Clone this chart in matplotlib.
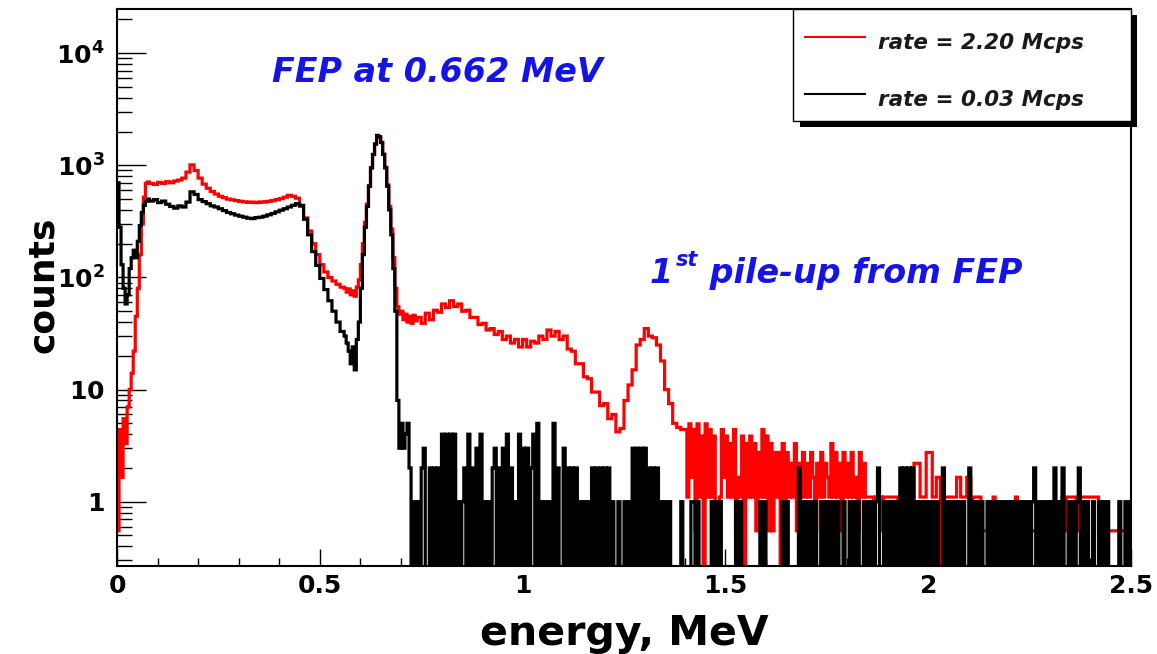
import numpy as np
import matplotlib
matplotlib.use("Agg")
import matplotlib.pyplot as plt
from matplotlib.patches import Rectangle
from matplotlib.lines import Line2D
from matplotlib.ticker import MultipleLocator, LogLocator, NullFormatter

plt.rcParams['font.family'] = ['DejaVu Sans']
plt.rcParams['mathtext.fontset'] = 'dejavusans'
plt.rcParams['path.simplify'] = False

# ---------------- data ----------------
series_labels = ["rate = 2.20 Mcps", "rate = 0.03 Mcps"]
series_colors = ["#ff0000", "#000000"]

# red spectrum (2.20 Mcps)
red_lo = [0.55, 4.4, 1.65, 5.5, 3.3, 7, 10, 14, 22, 45, 80, 160, 300, 520, 690, 710]      # 0.000-0.080, 5 keV bins
red_mid = [690, 675, 705, 690, 715, 700, 725, 740, 770, 870,
           1010,
           900, 770, 680, 625, 585, 555, 530, 515, 500,
           492, 485, 478, 472, 468, 470, 465, 472, 470, 478, 485, 495, 505, 520,
           540, 530, 510, 430, 340, 260, 200, 160, 130, 112, 100, 93, 87, 82]             # 0.08-0.56, 10 keV bins
red_peak = [80, 74, 79, 70, 76, 68, 82, 95, 130, 200, 310, 450, 660, 950, 1250, 1550,
            1800, 1780, 1600, 1260, 960, 670, 430, 270, 150, 80, 55, 47, 50, 42, 47, 40,
            45, 39, 46, 41]                                                                 # 0.56-0.74, 5 keV bins
red_cont = [44, 39, 48, 42, 51, 49, 58, 54, 62, 55,
            58, 50, 51, 44, 44, 38, 39, 34, 35, 31,
            33, 28, 30, 26, 28, 24, 28, 24, 27, 26,
            30, 28, 34, 30, 33, 28, 30, 23, 22, 17,
            17, 13, 12.5, 9.5, 9.5, 7.2, 7.5, 5.5, 6, 4.2,
            4.5, 8, 11, 15, 25, 28, 35, 30, 29, 25,
            18, 10, 7.5, 5.0, 4.6, 4.4]                                                    # 0.74-1.40, 10 keV bins
red_unit = 0.55   # height of one red count (scaled histogram)
red_tail_groups = [                                                                          # 1.40-2.50, 5 keV bins, counts
    "8293819270", "9282710283", "7262813270", "6272615282", "7161525061",
    "5242614252", "4253142524", "3262524152", "4252315242", "2221222122",
    "2222212222", "2224442225", "5522330322", "2222332223", "3122221111",
    "1121111111", "1112111111", "1111111111", "1111112122", "2221222222",
    "2222111111", "1111111101",
]

# black spectrum (0.03 Mcps)
black_lo = [700, 280, 130, 80, 58, 70, 120, 150, 175, 150, 210, 290, 380, 440, 480, 500]   # 0.000-0.080
black_mid = [480, 495, 465, 480, 450, 430, 415, 435, 425, 470,
             580,
             550, 495, 475, 455, 435, 425, 410, 395, 380,
             370, 360, 352, 345, 338, 335, 342, 345, 352, 362, 372, 385, 398, 410,
             425, 440, 455, 440, 330, 240, 170, 128, 98, 78, 62, 50, 40, 33]              # 0.08-0.56
black_peak = [30, 26, 22, 17, 24, 15, 28, 40, 80, 160, 280, 430, 650, 950, 1250, 1550,
              1850, 1800, 1600, 1250, 950, 650, 400, 240, 120, 50, 8, 3, 5, 3, 4, 5]      # 0.56-0.72
black_tail_groups = [                                                                        # 0.72-2.50, 5 keV bins, counts
    "2010102300", "2020204040", "4040101204", "0203040101", "0230203040",
    "2010403030", "2405010101", "0502003020", "2020101010", "2020202020",
    "1001001010", "3030303020", "2020101010", "0000100001", "1010000001",
    "0101000000", "0101000000", "0001010000", "0000101000", "0020101010",
    "1001010101", "0100100101", "0100101010", "1200101010", "1020202020",
    "1010101010", "1002010101", "0101002010", "1010010101", "0101010101",
    "0101010120", "1010101020", "1020010101", "2010100100", "1010100000",
    "100101",
]

xtick_values = [0, 0.5, 1, 1.5, 2, 2.5]
xtick_labels = ["0", "0.5", "1", "1.5", "2", "2.5"]
ytick_values = [1, 10, 100, 1000, 10000]
ytick_labels = [r"$\mathbf{1}$", r"$\mathbf{10}$", r"$\mathbf{10^{2}}$",
                r"$\mathbf{10^{3}}$", r"$\mathbf{10^{4}}$"]

FINE, COARSE = 0.005, 0.01


def digits(groups):
    return [int(c) for c in "".join(groups)]


def build_edges(start, segs):
    e = [start]
    for width, n in segs:
        base = e[-1]
        e.extend(base + width * np.arange(1, n + 1))
    return np.round(np.array(e), 6)


red_tail = [n * red_unit for n in digits(red_tail_groups)]
black_tail = digits(black_tail_groups)

red_vals = np.array(red_lo + red_mid + red_peak + red_cont + red_tail, dtype=float)
red_edges = build_edges(0.0, [(FINE, len(red_lo)), (COARSE, len(red_mid)), (FINE, len(red_peak)),
                              (COARSE, len(red_cont)), (FINE, len(red_tail))])
black_vals = np.array(black_lo + black_mid + black_peak + black_tail, dtype=float)
black_edges = build_edges(0.0, [(FINE, len(black_lo)), (COARSE, len(black_mid)),
                                (FINE, len(black_peak)), (FINE, len(black_tail))])

# ---------------- figure ----------------
W, H = 1157, 654
fig = plt.figure(figsize=(W / 100, H / 100), dpi=100)


def fx(px):
    return px / W


def fy(py):
    return 1 - py / H


L, R, T, B = 117, 1131, 9, 566
ax = fig.add_axes([fx(L), fy(B), (R - L) / W, (B - T) / H])
ax.set_yscale('log')

floor = 1e-3  # empty bins drawn below the visible range
ax.stairs(np.where(red_vals > 0, red_vals, floor), red_edges, color=series_colors[0],
          lw=2.3, baseline=None, label=series_labels[0], zorder=2, snap=False)
ax.stairs(np.where(black_vals > 0, black_vals, floor), black_edges, color=series_colors[1],
          lw=2.3, baseline=None, label=series_labels[1], zorder=3, snap=False)

ax.set_xlim(0, 2.5)
ax.set_ylim(0.267, 2.48e4)

for s in ax.spines.values():
    s.set_linewidth(1.5)
    s.set_color('black')
    s.set_zorder(4)

ax.set_xticks(xtick_values, xtick_labels, fontsize=18, fontweight='bold')
ax.xaxis.set_minor_locator(MultipleLocator(0.1))
ax.set_yticks(ytick_values, ytick_labels, fontsize=18)
ax.yaxis.set_minor_locator(LogLocator(base=10, subs=np.arange(2, 10), numticks=30))
ax.yaxis.set_minor_formatter(NullFormatter())
ax.tick_params(axis='x', which='major', direction='in', length=12, width=1.0, pad=6,
               top=False)
ax.tick_params(axis='x', which='minor', direction='in', length=6, width=1.0, top=False)
ax.tick_params(axis='y', which='major', direction='in', length=21, width=1.0, pad=9,
               right=False)
ax.tick_params(axis='y', which='minor', direction='in', length=11, width=1.0, right=False)

ax.set_xlabel("energy, MeV", fontsize=29.5, fontweight='bold', va='baseline')
ax.xaxis.set_label_coords(0.5, (B - 645) / (B - T))
ax.set_ylabel("counts", fontsize=26, fontweight='bold', va='center', ha='center')
ax.yaxis.set_label_coords((43 - L) / (R - L), (B - 285) / (B - T))

# annotations
blue = '#1414e6'
fig.text(fx(272), fy(82), "FEP at 0.662 MeV", color=blue, fontsize=24, fontweight='bold',
         style='italic', va='baseline', ha='left')
t1 = fig.text(fx(650), fy(283), "1", color=blue, fontsize=24, fontweight='bold',
              style='italic', va='baseline', ha='left')
t2 = ax.annotate("st", xy=(1, 0.62), xycoords=t1, xytext=(1.5, 0), textcoords='offset points',
                 color=blue, fontsize=15, fontweight='bold', style='italic',
                 va='bottom', ha='left', annotation_clip=False)
ax.annotate(" pile-up from FEP", xy=(1, 0), xycoords=(t2, t1), color=blue, fontsize=24,
            fontweight='bold', style='italic', va='bottom', ha='left', annotation_clip=False)

# legend box with shadow (ROOT style)
fig.add_artist(Rectangle((fx(800), fy(127)), (1137 - 800) / W, (127 - 15) / H,
                         transform=fig.transFigure, facecolor='black', edgecolor='none', zorder=10))
fig.add_artist(Rectangle((fx(793), fy(121)), (R - 793) / W, (121 - T) / H,
                         transform=fig.transFigure, facecolor='white', edgecolor='black',
                         lw=1.0, zorder=11))
for i, (lab, col) in enumerate(zip(series_labels, series_colors)):
    ly = 37 + i * 57
    fig.add_artist(Line2D([fx(805), fx(865)], [fy(ly), fy(ly)], transform=fig.transFigure,
                          color=col, lw=1.5, zorder=12))
    fig.text(fx(878), fy(ly + 12), lab, fontsize=15.5, fontweight='bold', style='italic',
             color='#1a1a1a', va='baseline', ha='left', zorder=12)

fig.savefig("out.png", dpi=100)
